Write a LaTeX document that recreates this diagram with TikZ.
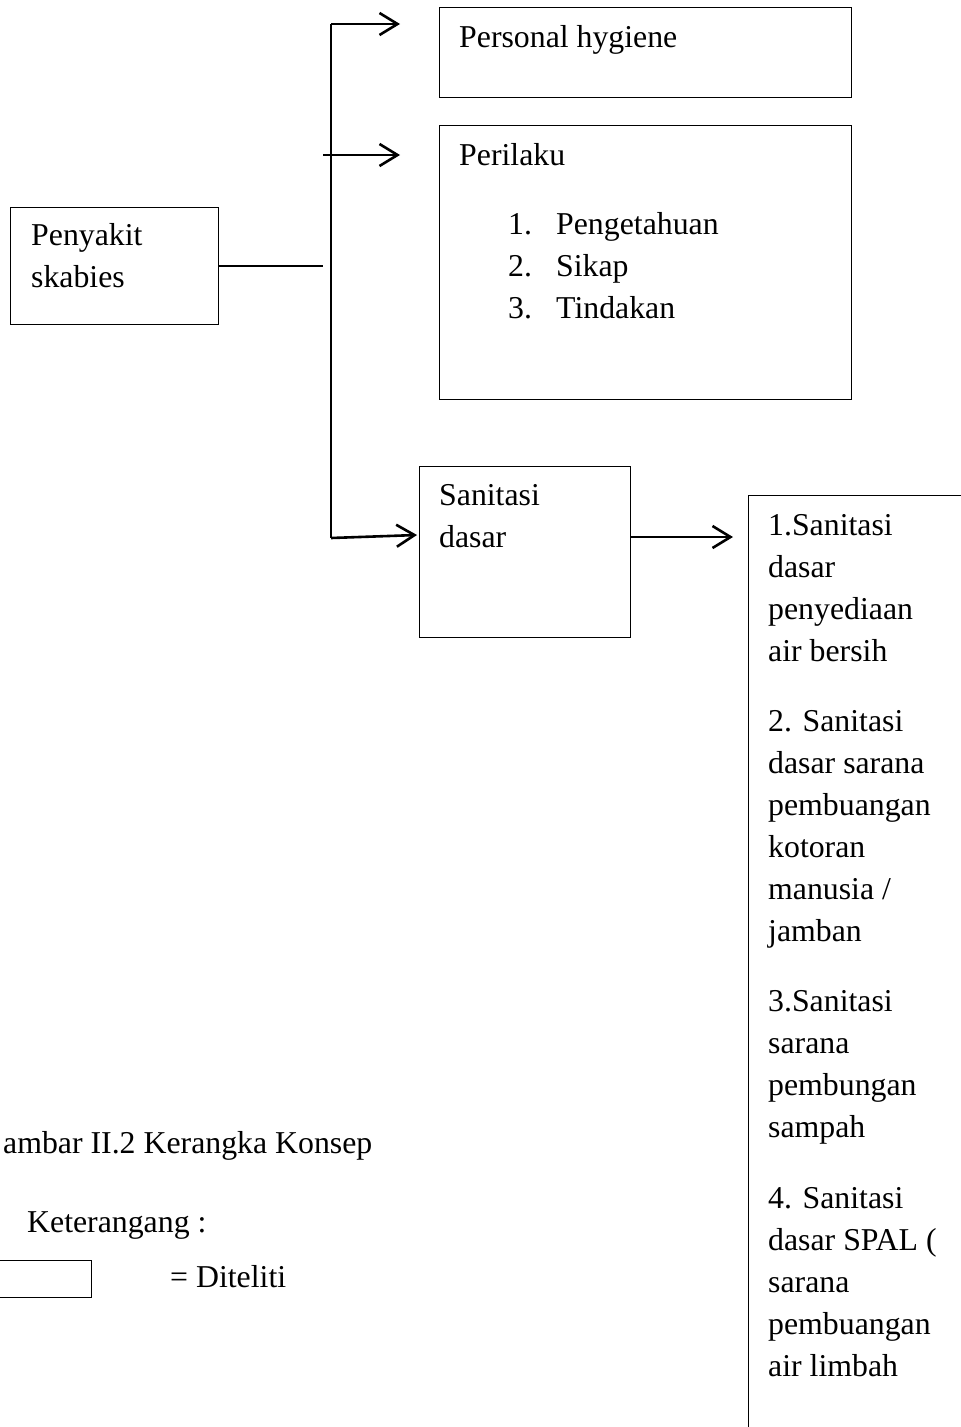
\documentclass[tikz,border=0pt]{standalone}
\usepackage{fontspec}
\setmainfont{Liberation Serif}
\usetikzlibrary{arrows.meta}
\begin{document}
\begin{tikzpicture}[x=1pt,y=-1pt,
  box/.style={draw, line width=1.4pt, inner sep=0pt, anchor=north west},
  txt/.style={inner sep=0pt, anchor=base west, font=\fontsize{31.8}{42}\selectfont, align=left},
  conn/.style={line width=2.6pt},
  arr/.style={conn, -{Straight Barb[length=18pt,width=22pt]}}]
\useasboundingbox (0,0) rectangle (961,1427);
\clip (0,0) rectangle (961,1427);
% boxes
\node[box, minimum width=412pt, minimum height=90pt] (ph) at (439,7) {};
\node[box, minimum width=412pt, minimum height=274pt] (per) at (439,125) {};
\node[box, minimum width=208pt, minimum height=117pt] (pen) at (10,207) {};
\node[box, minimum width=211pt, minimum height=171pt] (san) at (419,466) {};
\node[box, minimum width=260pt, minimum height=1000pt] (list) at (748,495) {};
\node[box, minimum width=110pt, minimum height=37pt] (leg) at (-19,1260) {};
% texts (anchor = baseline of the last line)
\node[txt] (tph) at (459,47) {Personal hygiene};
\node[txt] (tper) at (459,165) {Perilaku};
\node[txt] (tperl) at (508,318) {\makebox[48pt][l]{1.}Pengetahuan\\\makebox[48pt][l]{2.}Sikap\\\makebox[48pt][l]{3.}Tindakan};
\node[txt] (tpen) at (31,287) {Penyakit\\skabies};
\node[txt] (tsan) at (439,547) {Sanitasi\\dasar};
\node[txt] (l1) at (768,661) {1.Sanitasi\\dasar\\penyediaan\\air bersih};
\node[txt] (l2) at (768,941) {2. Sanitasi\\dasar sarana\\pembuangan\\kotoran\\manusia /\\jamban};
\node[txt] (l3) at (768,1137) {3.Sanitasi\\sarana\\pembungan\\sampah};
\node[txt] (l4) at (768,1376) {4. Sanitasi\\dasar SPAL (\\sarana\\pembuangan\\air limbah};
\node[txt] (cap) at (3,1153) {ambar II.2 Kerangka Konsep};
\node[txt] (ket) at (27,1232) {Keterangang :};
\node[txt] (dit) at (170,1287) {= Diteliti};
% connectors
\coordinate (a1) at (218,266);
\coordinate (a2) at (323,266);
\coordinate (top) at (331,24);
\coordinate (bot) at (331,538);
\coordinate (t1) at (400,24);
\coordinate (s2) at (323,155);
\coordinate (t2) at (400,155);
\coordinate (t3) at (417,535);
\coordinate (s4) at (630,537);
\coordinate (t4) at (733,537);
\draw[conn] (a1) -- (a2);
\draw[conn] (top) -- (bot);
\draw[arr] (top) -- (t1);
\draw[arr] (s2) -- (t2);
\draw[arr] (bot) -- (t3);
\draw[arr] (s4) -- (t4);
\end{tikzpicture}
\end{document}
